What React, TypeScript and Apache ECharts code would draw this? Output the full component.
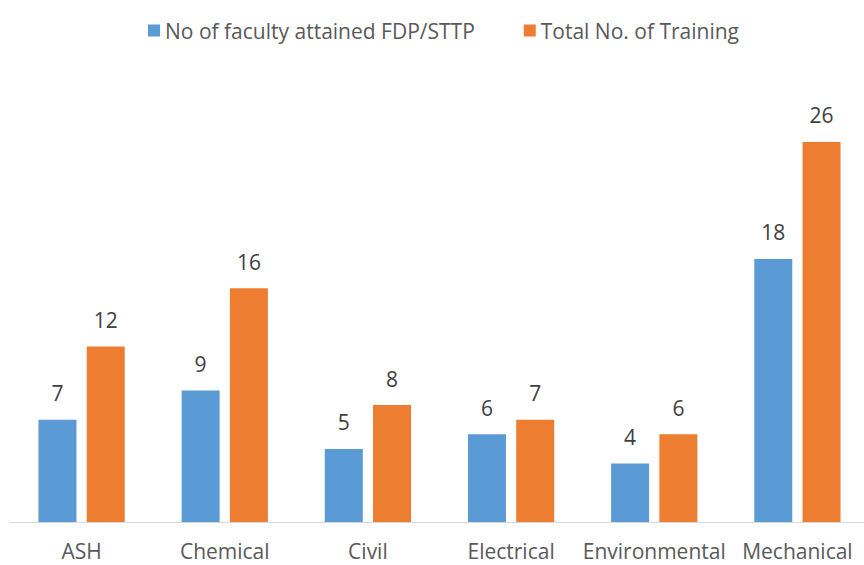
import React, { useEffect, useRef } from "react";
import * as echarts from "echarts";

const categories = ["ASH", "Chemical", "Civil", "Electrical", "Environmental", "Mechanical"];
const facultyFDP = [7, 9, 5, 6, 4, 18];
const totalTraining = [12, 16, 8, 7, 6, 26];
const seriesNames = ["No of faculty attained FDP/STTP", "Total No. of Training"];

const FONT = "'Open Sans', 'Liberation Sans', sans-serif";

export default function App() {
  const ref = useRef<HTMLDivElement>(null);
  useEffect(() => {
    if (!ref.current) return;
    const chart = echarts.init(ref.current, undefined, { renderer: "svg" });
    chart.setOption({
      animation: false,
      color: ["#5B9BD5", "#ED7D31"],
      legend: {
        top: 20,
        left: 148,
        padding: 0,
        itemWidth: 12,
        itemHeight: 12,
        itemGap: 49,
        icon: "rect",
        textStyle: { fontFamily: FONT, fontSize: 21, color: "#595959" },
        data: seriesNames,
      },
      grid: {
        left: 10,
        width: 859,
        top: 83.5,
        bottom: 43,
        containLabel: false,
        outerBoundsMode: "none",
      },
      xAxis: {
        type: "category",
        data: categories,
        axisLine: { lineStyle: { color: "#D9D9D9", width: 1 } },
        axisTick: { show: false },
        axisLabel: { interval: 0, fontFamily: FONT, fontSize: 21, color: "#595959", margin: 18 },
      },
      yAxis: {
        type: "value",
        min: 0,
        max: 30,
        show: false,
        splitLine: { show: false },
      },
      series: [
        {
          name: seriesNames[0],
          type: "bar",
          data: facultyFDP,
          barWidth: 38,
          barGap: "27%",
          label: { show: true, position: "top", distance: 16, fontFamily: FONT, fontSize: 21, color: "#404040" },
        },
        {
          name: seriesNames[1],
          type: "bar",
          data: totalTraining,
          barWidth: 38,
          barGap: "27%",
          label: { show: true, position: "top", distance: 16, fontFamily: FONT, fontSize: 21, color: "#404040" },
        },
      ],
    });
    return () => chart.dispose();
  }, []);
  return <div ref={ref} style={{ width: 864, height: 565, position: "absolute", left: 0, top: 0 }} />;
}
